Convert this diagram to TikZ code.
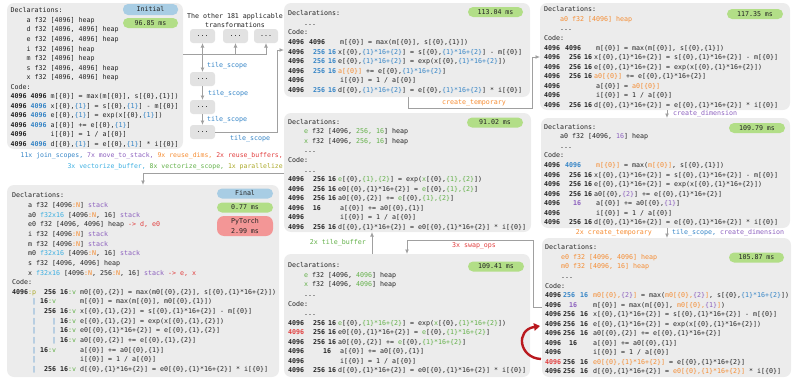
\documentclass[tikz,border=0pt]{standalone}
\usepackage{fontspec}
\setmainfont{DejaVu Sans Mono}
\usetikzlibrary{arrows.meta}
\definecolor{cB}{RGB}{52,132,198}
\definecolor{cP}{RGB}{140,96,190}
\definecolor{cO}{RGB}{245,140,50}
\definecolor{cR}{RGB}{225,62,62}
\definecolor{cG}{RGB}{98,176,72}
\definecolor{cC}{RGB}{60,175,225}
\definecolor{cL}{RGB}{170,168,40}
\definecolor{cPanel}{RGB}{236,236,236}
\definecolor{cDots}{RGB}{226,226,226}
\definecolor{cLine}{RGB}{160,160,160}
\definecolor{bGreen}{RGB}{178,222,135}
\definecolor{bBlue}{RGB}{168,205,228}
\definecolor{bRed}{RGB}{243,150,150}
\definecolor{cDark}{RGB}{185,25,30}
\definecolor{cText}{RGB}{35,35,35}
\newcommand\codefont{\fontsize{6.64}{9.55}\selectfont}
\newcommand\kB[1]{\textcolor{cB}{#1}}
\newcommand\kP[1]{\textcolor{cP}{#1}}
\newcommand\kO[1]{\textcolor{cO}{#1}}
\newcommand\kR[1]{\textcolor{cR}{#1}}
\newcommand\kG[1]{\textcolor{cG}{#1}}
\newcommand\kC[1]{\textcolor{cC}{#1}}
\newcommand\kL[1]{\textcolor{cL}{#1}}
\newcommand\za{\{0\}}
\newcommand\zb{\{1\}}
\newcommand\zc{\{2\}}
\newcommand\zk{\{1\}*16+\{2\}}
\newcommand\pfx[3]{\makebox[21pt][l]{\textbf{#1}}\makebox[16pt][r]{\textbf{#2}}\makebox[13pt][l]{\hspace{3pt}\textbf{#3}}}
\newcommand\pfxF[3]{\makebox[18pt][l]{\textbf{#1}}\makebox[17pt][l]{\textbf{#2}}\makebox[13pt][l]{\textbf{#3}}}
\newcommand\fl{\rule{0pt}{7.3pt}}
\tikzset{
  panel/.style={fill=cPanel, rounded corners=7pt, inner sep=0pt, outer sep=0pt, anchor=north west},
  dots/.style={fill=cDots, rounded corners=3pt, minimum width=25pt, minimum height=14pt, inner sep=0pt, outer sep=0pt, font=\codefont},
  badge/.style={rounded corners=5pt, minimum width=55pt, minimum height=10pt, inner sep=0pt, outer sep=0pt, font=\codefont},
  code/.style={anchor=north west, align=left, inner sep=0pt, font=\codefont},
  lab/.style={inner sep=0pt, font=\codefont, text height=5pt, text depth=1.5pt},
  conn/.style={draw=cLine, line width=0.9pt, -{Latex[length=4.5pt,width=4pt]}},
  redarr/.style={draw=cDark, line width=2.4pt, -{Triangle[length=6pt,width=7.5pt]}}
}
\begin{document}
\begin{tikzpicture}[x=1pt,y=-1pt, every node/.style={text=cText}]
\useasboundingbox (0,0) rectangle (793,380);
% panels
\node[panel, minimum width=176pt, minimum height=146pt] (A) at (7,3) {};
\node[panel, minimum width=246pt, minimum height=94pt] (B) at (284,3) {};
\node[panel, minimum width=250pt, minimum height=107pt] (D) at (540,3) {};
\node[panel, minimum width=249pt, minimum height=110pt] (E) at (541,118) {};
\node[panel, minimum width=249pt, minimum height=139pt] (F) at (542,238) {};
\node[panel, minimum width=247pt, minimum height=119pt] (C) at (284,113) {};
\node[panel, minimum width=246pt, minimum height=123pt] (G) at (284,254) {};
\node[panel, minimum width=272pt, minimum height=192pt] (H) at (7,185) {};
% panel texts
\node[code] (At) at (10.5,5.3) {\fl Declarations:\\
~~~~a f32 [4096] heap\\
~~~~d f32 [4096, 4096] heap\\
~~~~e f32 [4096, 4096] heap\\
~~~~i f32 [4096] heap\\
~~~~m f32 [4096] heap\\
~~~~s f32 [4096, 4096] heap\\
~~~~x f32 [4096, 4096] heap\\
Code:\\
\textbf{4096 4096} m[\za] = max(m[\za], s[\za,\zb])\\
\textbf{4096 \kB{4096}} x[\za,\kB{\zb}] = s[\za,\kB{\zb}] - m[\za]\\
\textbf{4096 \kB{4096}} e[\za,\kB{\zb}] = exp(x[\za,\kB{\zb}])\\
\textbf{4096 \kB{4096}} a[\za] += e[\za,\kB{\zb}]\\
\textbf{4096}~~~~~~i[\za] = 1 / a[\za]\\
\textbf{4096 \kB{4096}} d[\za,\kB{\zb}] = e[\za,\kB{\zb}] * i[\za]};
\node[code] (Bt) at (288,8.3) {\fl Declarations:\\
~~~~...\\
Code:\\
\pfx{4096}{4096}{}\hspace{2pt}m[\za] = max(m[\za], s[\za,\zb])\\
\pfx{4096}{\kB{256}}{\kB{16}}x[\za,\kB{\zk}] = s[\za,\kB{\zk}] - m[\za]\\
\pfx{4096}{\kB{256}}{\kB{16}}e[\za,\kB{\zk}] = exp(x[\za,\kB{\zk}])\\
\pfx{4096}{\kB{256}}{\kB{16}}\kO{a[\za]} += e[\za,\kB{\zk}]\\
\pfx{4096}{}{}\hspace{2pt}i[\za] = 1 / a[\za]\\
\pfx{4096}{\kB{256}}{\kB{16}}d[\za,\kB{\zk}] = e[\za,\kB{\zk}] * i[\za]};
\node[code] (Dt) at (544,4.3) {\fl Declarations:\\
~~~~\kO{a0 f32 [4096] heap}\\
~~~~...\\
Code:\\
\pfx{4096}{4096}{}\hspace{2pt}m[\za] = max(m[\za], s[\za,\zb])\\
\pfx{4096}{256}{16}x[\za,\zk] = s[\za,\zk] - m[\za]\\
\pfx{4096}{256}{16}e[\za,\zk] = exp(x[\za,\zk])\\
\pfx{4096}{256}{16}\kO{a0[\za]} += e[\za,\zk]\\
\pfx{4096}{}{}\hspace{2pt}a[\za] = \kO{a0[\za]}\\
\pfx{4096}{}{}\hspace{2pt}i[\za] = 1 / a[\za]\\
\pfx{4096}{256}{16}d[\za,\zk] = e[\za,\zk] * i[\za]};
\node[code] (Et) at (544,121.8) {\fl Declarations:\\
~~~~a0 f32 [4096, \kP{16}] heap\\
~~~~...\\
Code:\\
\pfx{4096}{\kB{4096}}{}\hspace{2pt}\kO{m[\za]} = max(\kO{m[\za]}, s[\za,\zb])\\
\pfx{4096}{256}{16}x[\za,\zk] = s[\za,\zk] - m[\za]\\
\pfx{4096}{256}{16}e[\za,\zk] = exp(x[\za,\zk])\\
\pfx{4096}{256}{16}a0[\za,\kP{\zc}] += e[\za,\zk]\\
\pfx{4096}{\kP{16}}{}\hspace{2pt}a[\za] += a0[\za,\kP{\zb}]\\
\pfx{4096}{}{}\hspace{2pt}i[\za] = 1 / a[\za]\\
\pfx{4096}{256}{16}d[\za,\zk] = e[\za,\zk] * i[\za]};
\node[code] (Ft) at (545,242.3) {\fl Declarations:\\
~~~~\kO{e0 f32 [4096, 4096] heap}\\
~~~~\kO{m0 f32 [4096, 16] heap}\\
~~~~...\\
Code:\\
\pfxF{4096}{\kB{256}}{\kB{16}}\kO{m0[\za,}\kP{\zc}\kO{]} = max(\kO{m0[\za,}\kP{\zc}\kO{]}, s[\za,\kB{\zk}])\\
\pfxF{4096}{\hspace{6pt}\kP{16}}{}m[\za] = max(m[\za], \kO{m0[\za,}\kP{\zb}\kO{]})\\
\pfxF{4096}{256}{16}x[\za,\zk] = s[\za,\zk] - m[\za]\\
\pfxF{4096}{256}{16}e[\za,\zk] = exp(x[\za,\zk])\\
\pfxF{4096}{256}{16}a0[\za,\zc] += e[\za,\zk]\\
\pfxF{4096}{\hspace{6pt}16}{}a[\za] += a0[\za,\zb]\\
\pfxF{4096}{}{}i[\za] = 1 / a[\za]\\
\pfxF{\kR{4096}}{256}{16}\kO{e0[\za,\zk]} = e[\za,\zk]\\
\pfxF{4096}{256}{16}d[\za,\zk] = \kO{e0[\za,\zk]} * i[\za]};
\node[code] (Ct) at (288,116.8) {\fl Declarations:\\
~~~~\kG{e} f32 [4096, \kG{256, 16}] heap\\
~~~~\kG{x} f32 [4096, \kG{256, 16}] heap\\
~~~~...\\
Code:\\
~~~~...\\
\pfx{4096}{256}{16}\kG{e}[\za,\kG{\zb,\zc}] = exp(\kG{x}[\za,\kG{\zb,\zc}])\\
\pfx{4096}{256}{16}e0[\za,\zk] = \kG{e}[\za,\kG{\zb,\zc}]\\
\pfx{4096}{256}{16}a0[\za,\zc] += \kG{e}[\za,\kG{\zb,\zc}]\\
\pfx{4096}{16\hspace{4.3pt}}{}\hspace{2pt}a[\za] += a0[\za,\zb]\\
\pfx{4096}{}{}\hspace{2pt}i[\za] = 1 / a[\za]\\
\pfx{4096}{256}{16}d[\za,\zk] = e0[\za,\zk] * i[\za]};
\node[code] (Gt) at (288,260.3) {\fl Declarations:\\
~~~~\kG{e} f32 [4096, \kG{4096}] heap\\
~~~~\kG{x} f32 [4096, \kG{4096}] heap\\
~~~~...\\
Code:\\
~~~~...\\
\pfx{4096}{256}{16}\kG{e}[\za,\kG{\zk}] = exp(\kG{x}[\za,\kG{\zk}])\\
\pfx{\kR{4096}}{256}{16}e0[\za,\zk] = \kG{e}[\za,\kG{\zk}]\\
\pfx{4096}{256}{16}a0[\za,\zc] += \kG{e}[\za,\kG{\zk}]\\
\pfx{4096}{}{\hspace{-5pt}16}\hspace{2pt}a[\za] += a0[\za,\zb]\\
\pfx{4096}{}{}\hspace{2pt}i[\za] = 1 / a[\za]\\
\pfx{4096}{256}{16}d[\za,\zk] = e0[\za,\zk] * i[\za]};
\node[code, font=\fontsize{6.64}{9.65}\selectfont] (Ht) at (12,190.3) {\fl Declarations:\\
~~~~a f32 [4096\kO{:N}] \kP{stack}\\
~~~~a0 \kC{f32x16} [4096\kO{:N}, 16] \kP{stack}\\
~~~~e0 f32 [4096, 4096] heap \kR{-> d, e0}\\
~~~~i f32 [4096\kO{:N}] \kP{stack}\\
~~~~m f32 [4096\kO{:N}] \kP{stack}\\
~~~~m0 \kC{f32x16} [4096\kO{:N}, 16] \kP{stack}\\
~~~~s f32 [4096, 4096] heap\\
~~~~x \kC{f32x16} [4096\kO{:N}, 256\kO{:N}, 16] \kP{stack} \kR{-> e, x}\\
Code:\\
\textbf{4096}\kL{:p}~~\textbf{256 16}\kG{:v} m0[\za,\zc] = max(m0[\za,\zc], s[\za,\zk])\\
~~~~~\kB{|} \textbf{16}\kG{:v}~~~~~~m[\za] = max(m[\za], m0[\za,\zb])\\
~~~~~\kB{|}~~\textbf{256 16}\kG{:v} x[\za,\zb,\zc] = s[\za,\zk] - m[\za]\\
~~~~~\kB{|}~~~~\kB{|} \textbf{16}\kG{:v} e[\za,\zb,\zc] = exp(x[\za,\zb,\zc])\\
~~~~~\kB{|}~~~~\kB{|} \textbf{16}\kG{:v} e0[\za,\zk] = e[\za,\zb,\zc]\\
~~~~~\kB{|}~~~~\kB{|} \textbf{16}\kG{:v} a0[\za,\zc] += e[\za,\zb,\zc]\\
~~~~~\kB{|} \textbf{16}\kG{:v}~~~~~~a[\za] += a0[\za,\zb]\\
~~~~~\kB{|}~~~~~~~~~~~i[\za] = 1 / a[\za]\\
~~~~~\kB{|}~~\textbf{256 16}\kG{:v} d[\za,\zk] = e0[\za,\zk] * i[\za]};
% badges
\node[badge, fill=bBlue, minimum height=11pt] (bInit) at (150.5,9.5) {Initial};
\node[badge, fill=bGreen] (bA) at (150.5,23) {96.85 ms};
\node[badge, fill=bGreen] (bB) at (495.5,12) {113.04 ms};
\node[badge, fill=bGreen, minimum width=56pt] (bD) at (755,14) {117.35 ms};
\node[badge, fill=bGreen, minimum width=56pt] (bE) at (757,128) {109.79 ms};
\node[badge, fill=bGreen] (bF) at (756.5,257.5) {105.87 ms};
\node[badge, fill=bGreen, minimum width=56pt] (bC) at (495,122.5) {91.02 ms};
\node[badge, fill=bGreen, minimum width=56pt] (bG) at (496,266.5) {109.41 ms};
\node[badge, fill=bBlue, minimum width=56pt] (bFin) at (245,193.5) {Final};
\node[badge, fill=bGreen, minimum width=56pt] (bFt) at (245,207.5) {0.77 ms};
\node[badge, fill=bRed, minimum width=56pt, minimum height=20pt, align=center, rounded corners=7pt] (bPT) at (245,226) {PyTorch\\2.99 ms};
% other transformations
\node[align=center, inner sep=0pt, font=\codefont] (note) at (235,20.5) {The other 181 applicable\\transformations};
\node[dots] (t1) at (202.5,36) {...};
\node[dots] (t2) at (235.5,36) {...};
\node[dots, minimum width=24pt] (t3) at (266,36) {...};
\node[dots] (s1) at (202.5,79) {...};
\node[dots] (s2) at (202.5,107) {...};
\node[dots] (s3) at (202.5,132) {...};
% labels
\node[lab, anchor=west, text=cB] (l1) at (207,66) {tile\_scope};
\node[lab, anchor=west, text=cB] (l2) at (208,94) {tile\_scope};
\node[lab, anchor=west, text=cB] (l3) at (207,120) {tile\_scope};
\node[lab, anchor=west, text=cB] (l4) at (230,139) {tile\_scope};
\node[lab, text=cO] (l5) at (474,103) {create\_temporary};
\node[lab, anchor=west, text=cP] (l6) at (673,113.5) {create\_dimension};
\node[lab, anchor=east, text=cO] (l7) at (652,233) {2x create\_temporary};
\node[lab, anchor=west] (l8) at (672,233) {\kB{tile\_scope,} \kP{create\_dimension}};
\node[lab, text=cR] (l9) at (474,245.5) {3x swap\_ops};
\node[lab, anchor=east, text=cG] (l10) at (366,243) {2x tile\_buffer};
\node[anchor=north east, align=right, inner sep=0pt, font=\fontsize{6.5}{11}\selectfont] (tr) at (283,149.5) {\fl\kB{11x join\_scopes,} \kP{7x move\_to\_stack,} \kO{9x reuse\_dims,} \kR{2x reuse\_buffers,}\\
\kC{3x vectorize\_buffer,} \kG{8x vectorize\_scope,} \kL{1x parallelize}};
% connectors
\coordinate (h) at (0,54);
\draw[conn] (A.east |- h) -| (t3.south);
\draw[conn] (t1.south |- h) -- (t1.south);
\draw[conn] (t2.south |- h) -- (t2.south);
\draw[conn] (t1.south |- h) -- (s1.north);
\draw[conn] (s1) -- (s2);
\draw[conn] (s2) -- (s3);
\coordinate (v) at (277,50);
\draw[conn] (s3.east) -| (v) -- (B.west |- v);
\coordinate (k1) at (408,108);
\coordinate (k2) at (532,57);
\draw[conn] (B.south -| k1) -- (k1) -| (k2) -- (D.west |- k2);
\coordinate (ke) at (667,0);
\draw[conn] (D.south -| ke) -- (E.north -| ke);
\draw[conn] (E.south -| ke) -- (F.north -| ke);
\coordinate (k3) at (533,240);
\coordinate (k4) at (533,307);
\coordinate (kg) at (407,0);
\draw[conn] (F.west |- k4) -- (k4) -- (k3) -| (G.north -| kg);
\coordinate (kt) at (372,0);
\draw[conn] (G.north -| kt) -- (C.south -| kt);
\coordinate (kf) at (143,173);
\draw[conn] (C.west |- kf) -| (H.north);
\coordinate (r1) at (541,359);
\coordinate (r2) at (540,326);
\draw[redarr] (r1) .. controls (519,358) and (515,330) .. (r2);
\end{tikzpicture}
\end{document}
